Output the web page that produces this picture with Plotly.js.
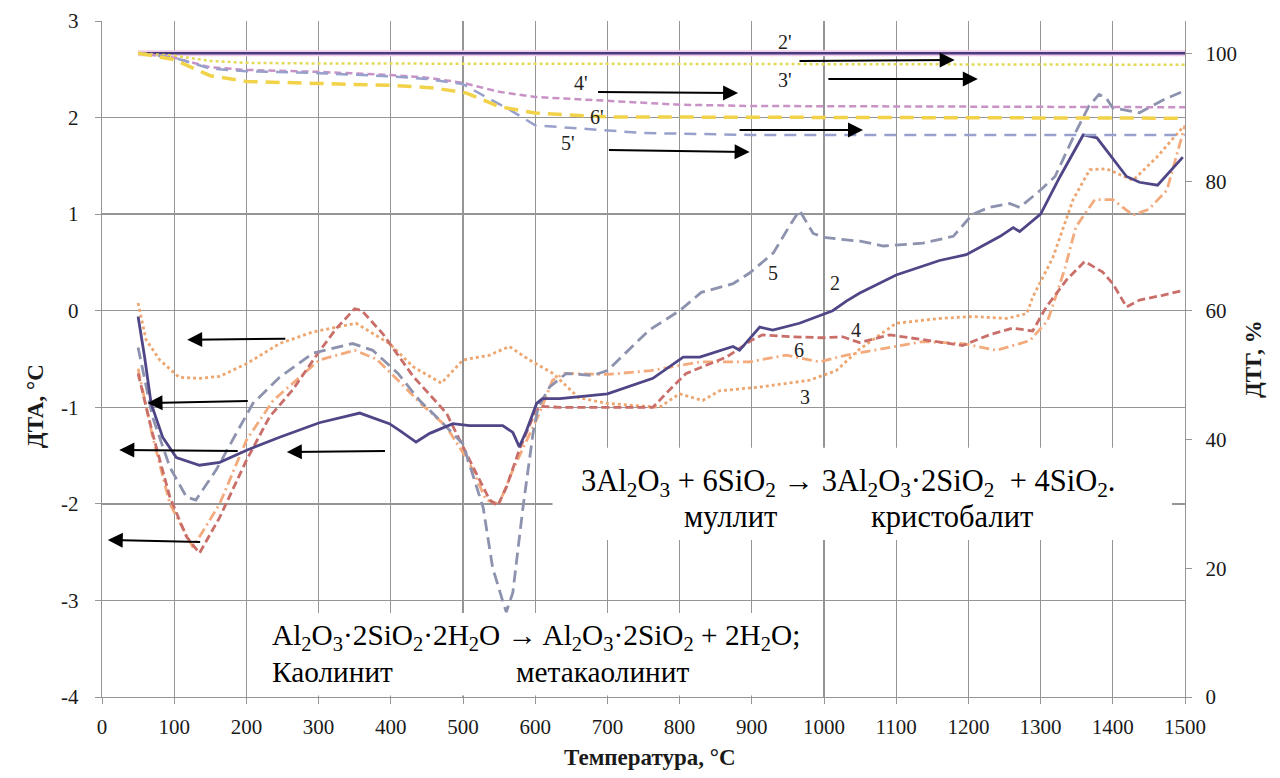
<!DOCTYPE html>
<html>
<head>
<meta charset="utf-8">
<script src="https://cdn.plot.ly/plotly-3.0.1.min.js"></script>
<style>html,body{margin:0;padding:0;background:#fff;}#chart{width:1280px;height:778px;}</style>
</head>
<body>
<div id="chart"></div>
<script>
// ---- DTA curves (left axis, °C) ----
const x2 = [50,59,68,84,103,135,163,202,246,301,357,398,412,435,454,486,509,555,569,578,588,602,610,634,700,763,805,828,874,883,911,929,966,1003,1012,1031,1049,1100,1160,1197,1244,1262,1271,1300,1327,1359,1378,1419,1437,1462,1497];
const y2 = [-0.06,-0.48,-0.96,-1.31,-1.52,-1.60,-1.57,-1.44,-1.31,-1.16,-1.06,-1.17,-1.24,-1.36,-1.27,-1.17,-1.19,-1.19,-1.26,-1.41,-1.24,-0.96,-0.91,-0.91,-0.86,-0.70,-0.48,-0.48,-0.37,-0.41,-0.17,-0.20,-0.13,-0.03,0.0,0.10,0.18,0.37,0.52,0.58,0.77,0.86,0.82,1.00,1.39,1.82,1.79,1.39,1.33,1.30,1.59];

const x3 = [50,61,80,107,135,163,200,246,292,352,398,431,470,500,537,564,592,625,660,700,772,800,832,855,911,980,1017,1049,1100,1160,1206,1253,1281,1289,1317,1345,1368,1391,1428,1461,1497];
const y3 = [0.08,-0.30,-0.51,-0.69,-0.70,-0.68,-0.55,-0.34,-0.22,-0.13,-0.34,-0.58,-0.75,-0.51,-0.46,-0.37,-0.51,-0.65,-0.90,-0.96,-1.00,-0.86,-0.93,-0.83,-0.79,-0.72,-0.62,-0.40,-0.13,-0.08,-0.06,-0.08,-0.03,0.14,0.55,1.15,1.46,1.47,1.35,1.59,1.90];

const x4 = [50,70,94,117,135,163,200,232,264,301,325,350,360,389,431,477,514,537,548,560,578,597,606,634,700,763,786,809,865,901,915,957,998,1026,1049,1091,1137,1192,1229,1261,1289,1308,1336,1361,1386,1400,1419,1437,1469,1497];
const y4 = [-0.65,-1.27,-1.93,-2.34,-2.51,-2.14,-1.55,-1.10,-0.82,-0.42,-0.18,0.02,0.0,-0.24,-0.68,-1.06,-1.62,-1.96,-2.02,-1.83,-1.44,-1.10,-0.99,-1.00,-1.00,-1.00,-0.82,-0.65,-0.48,-0.30,-0.25,-0.27,-0.28,-0.27,-0.33,-0.25,-0.30,-0.36,-0.25,-0.18,-0.21,0.04,0.32,0.51,0.40,0.28,0.04,0.11,0.16,0.21];

const x5 = [50,70,94,117,130,158,186,209,246,292,347,375,410,440,470,500,528,541,556,560,569,583,597,604,620,643,680,700,758,800,830,874,897,930,950,966,985,1000,1022,1050,1082,1137,1179,1206,1229,1257,1271,1300,1320,1348,1367,1381,1391,1400,1437,1469,1497];
const y5 = [-0.38,-1.10,-1.62,-1.93,-1.96,-1.65,-1.27,-0.96,-0.69,-0.44,-0.34,-0.41,-0.65,-0.93,-1.15,-1.38,-2.04,-2.66,-3.03,-3.12,-2.92,-2.04,-1.27,-1.00,-0.79,-0.65,-0.67,-0.62,-0.20,0.00,0.19,0.28,0.39,0.60,0.85,1.04,0.80,0.76,0.74,0.72,0.67,0.70,0.77,1.00,1.07,1.11,1.07,1.25,1.39,1.84,2.12,2.24,2.20,2.10,2.05,2.18,2.27];

const x6 = [50,70,94,126,163,200,237,274,301,350,380,410,440,477,509,532,550,569,588,606,624,640,700,760,828,897,948,994,1031,1091,1137,1192,1239,1285,1310,1333,1349,1375,1400,1428,1450,1475,1500];
const y6 = [-0.60,-1.30,-2.00,-2.45,-2.00,-1.34,-0.93,-0.69,-0.51,-0.41,-0.50,-0.72,-0.95,-1.20,-1.58,-1.96,-2.00,-1.65,-1.34,-1.06,-0.72,-0.65,-0.66,-0.62,-0.53,-0.53,-0.46,-0.53,-0.46,-0.38,-0.32,-0.34,-0.41,-0.31,-0.10,0.42,0.87,1.15,1.15,0.99,1.05,1.25,1.92];

// ---- TG curves (right axis, %) ----
const xt2 = [50,200,500,1000,1500];
const yt2 = [100,100,100,100,100];
const xt3 = [50,100,150,200,300,600,1000,1500];
const yt3 = [100,99.6,98.8,98.5,98.4,98.4,98.3,98.2];
const xt4 = [50,100,150,200,300,400,450,500,550,600,700,800,900,1500];
const yt4 = [100,99.3,97.8,97.4,97.1,96.6,96.2,95.4,94.0,93.2,92.6,92.0,91.8,91.6];
const xt5 = [50,100,150,200,300,400,450,500,530,565,600,650,750,900,1500];
const yt5 = [100,99.3,97.6,97.2,96.9,96.4,96.0,95.2,93.3,91.2,88.8,88.4,87.6,87.3,87.3];
const xt6 = [50,100,150,200,300,400,460,505,550,600,700,1500];
const yt6 = [100,99.0,96.5,95.6,95.3,95.0,94.6,93.8,91.7,90.7,90.1,89.9];

// ---- labels ----
const xTicks = [0,100,200,300,400,500,600,700,800,900,1000,1100,1200,1300,1400,1500];
const yTicks = [-4,-3,-2,-1,0,1,2,3];
const y2Ticks = [0,20,40,60,80,100];
const xTitle = 'Температура, °C';
const yTitle = 'ДТА, °C';
const y2Title = 'ДТГ, %';
const curveLabels = ["2'","3'","4'","6'","5'","5","2","4","6","3"];
const curveLabelX = [946,946,664,685,645,929,1015,1045,966,973];
const curveLabelY = [2.78,2.39,2.36,2.01,1.74,0.39,0.29,-0.20,-0.41,-0.89];
const eq1 = "Al<sub>2</sub>O<sub>3</sub>·2SiO<sub>2</sub>·2H<sub>2</sub>O → Al<sub>2</sub>O<sub>3</sub>·2SiO<sub>2</sub> + 2H<sub>2</sub>O;";
const eq1a = "Каолинит";
const eq1b = "метакаолинит";
const eq2 = "3Al<sub>2</sub>O<sub>3</sub> + 6SiO<sub>2</sub> → 3Al<sub>2</sub>O<sub>3</sub>·2SiO<sub>2</sub>  + 4SiO<sub>2</sub>.";
const eq2a = "муллит";
const eq2b = "кристобалит";

// arrows: [tailX, tailY, headX, headY]
const arrows = [
  [256,-0.29,118,-0.30],
  [204,-0.935,63,-0.956],
  [190,-1.453,24,-1.442],
  [394,-1.453,256,-1.463],
  [138,-2.395,8,-2.374],
  [685,2.265,881,2.254],
  [700,1.664,897,1.643],
  [881,1.871,1054,1.871],
  [964,2.586,1181,2.596],
  [1004,2.399,1213,2.399]
];

const SERIF = "Liberation Serif";
const TXT = '#1a1a1a';

function tr(x, y, color, dash, width, yaxis) {
  return {x: x, y: y, type: 'scatter', mode: 'lines', yaxis: yaxis || 'y',
          line: {color: color, dash: dash, width: width}, hoverinfo: 'skip', showlegend: false};
}

const data = [
  tr(xt2, yt2, '#efcdea', 'solid', 6, 'y2'),
  tr(xt2, yt2, '#4a3b7c', 'solid', 2.5, 'y2'),
  tr(xt3, yt3, '#e4da55', 'dot', 2.5, 'y2'),
  tr(xt4, yt4, '#c892c6', '7px,4px', 2.5, 'y2'),
  tr(xt5, yt5, '#98a0cc', '12px,8px', 2.5, 'y2'),
  tr(xt6, yt6, '#f1d248', '14px,8px', 3.5, 'y2'),
  tr(x3, y3, '#eda66f', 'dot', 2.8),
  tr(x6, y6, '#f3aa7c', '10px,4px,2px,4px', 2.8),
  tr(x4, y4, '#c96e69', '8px,4px', 2.8),
  tr(x5, y5, '#8d92ae', '12px,6px', 2.8),
  tr(x2, y2, '#4e4686', 'solid', 2.8)
];

const annotations = [];
arrows.forEach(a => {
  annotations.push({x: a[2], y: a[3], ax: a[0], ay: a[1], xref: 'x', yref: 'y', axref: 'x', ayref: 'y',
    text: '', showarrow: true, arrowhead: 2, arrowsize: 1.5, arrowwidth: 2, arrowcolor: '#000'});
});
curveLabels.forEach((t, i) => {
  annotations.push({x: curveLabelX[i], y: curveLabelY[i], xref: 'x', yref: 'y', text: t, showarrow: false,
    font: {family: SERIF, size: 20, color: '#222'}});
});
const eqFont1 = {family: SERIF, size: 29.3, color: '#000'};
const eqFont2 = {family: SERIF, size: 30.5, color: '#000'};
annotations.push({x: 232, y: -3.38, xref: 'x', yref: 'y', text: eq1, showarrow: false, xanchor: 'left', yanchor: 'middle', font: eqFont1});
annotations.push({x: 232, y: -3.74, xref: 'x', yref: 'y', text: eq1a, showarrow: false, xanchor: 'left', yanchor: 'middle', font: eqFont1});
annotations.push({x: 571, y: -3.74, xref: 'x', yref: 'y', text: eq1b, showarrow: false, xanchor: 'left', yanchor: 'middle', font: eqFont1});
annotations.push({x: 661, y: -1.78, xref: 'x', yref: 'y', text: eq2, showarrow: false, xanchor: 'left', yanchor: 'middle', font: eqFont2});
annotations.push({x: 803, y: -2.14, xref: 'x', yref: 'y', text: eq2a, showarrow: false, xanchor: 'left', yanchor: 'middle', font: eqFont2});
annotations.push({x: 1063, y: -2.14, xref: 'x', yref: 'y', text: eq2b, showarrow: false, xanchor: 'left', yanchor: 'middle', font: eqFont2});

// axis titles (placed as in the reference, the left one sits below centre)
const titleFont = {family: SERIF, size: 23, color: TXT, weight: 'bold'};
annotations.push({x: 0.5057, y: -0.09, xref: 'paper', yref: 'paper', text: xTitle, showarrow: false, xanchor: 'center', yanchor: 'middle', font: titleFont});
annotations.push({x: -0.062, y: 0.43, xref: 'paper', yref: 'paper', text: yTitle, showarrow: false, textangle: -90, xanchor: 'center', yanchor: 'middle', font: titleFont});
annotations.push({x: 1.0628, y: 0.50, xref: 'paper', yref: 'paper', text: y2Title, showarrow: false, textangle: -90, xanchor: 'center', yanchor: 'middle', font: titleFont});

const shapes = [
  {type: 'rect', xref: 'x', yref: 'y', x0: 230, x1: 998, y0: -3.985, y1: -3.13, fillcolor: '#fff', line: {width: 0}, layer: 'above'},
  {type: 'rect', xref: 'x', yref: 'y', x0: 624, x1: 1482, y0: -2.374, y1: -1.42, fillcolor: '#fff', line: {width: 0}, layer: 'above'}
];

const GRID = '#959595';
const tickFont = {family: SERIF, size: 21, color: TXT};
const layout = {
  width: 1280, height: 778,
  margin: {l: 102, r: 95, t: 21, b: 81},
  paper_bgcolor: '#fff', plot_bgcolor: '#fff',
  font: {family: SERIF, size: 20, color: TXT},
  showlegend: false,
  xaxis: {range: [0, 1500], tickvals: xTicks, ticktext: xTicks.map(String),
          showgrid: true, gridcolor: GRID, gridwidth: 1.3, zeroline: false,
          showline: true, linecolor: GRID, linewidth: 1.3,
          ticks: 'outside', ticklen: 6, tickcolor: GRID, ticklabelstandoff: 4,
          tickfont: tickFont},
  yaxis: {range: [-4, 3], tickvals: yTicks, ticktext: yTicks.map(String),
          showgrid: true, gridcolor: GRID, gridwidth: 1.3, zeroline: false,
          showline: true, linecolor: GRID, linewidth: 1.3,
          ticks: 'outside', ticklen: 6, tickcolor: GRID, ticklabelstandoff: 12,
          tickfont: tickFont},
  yaxis2: {range: [0, 105], overlaying: 'y', side: 'right', tickvals: y2Ticks, ticktext: y2Ticks.map(String),
           showgrid: false, zeroline: false, showline: true, linecolor: GRID, linewidth: 1.3,
           ticks: 'outside', ticklen: 6, tickcolor: GRID, ticklabelstandoff: 9,
           tickfont: tickFont},
  annotations: annotations,
  shapes: shapes
};

Plotly.newPlot('chart', data, layout, {staticPlot: true, displayModeBar: false});
</script>
</body>
</html>
